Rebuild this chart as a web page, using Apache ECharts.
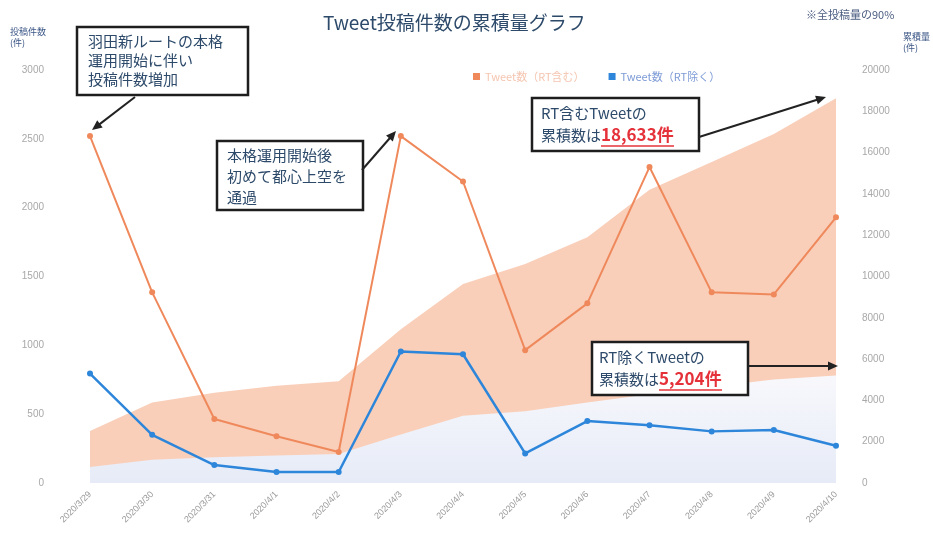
<!DOCTYPE html>
<html>
<head>
<meta charset="utf-8">
<script src="https://cdn.jsdelivr.net/npm/echarts@6/dist/echarts.min.js"></script>
<style>
  html, body { margin: 0; padding: 0; background: #fff; }
  #chart { width: 933px; height: 556px; }
</style>
</head>
<body>
<div id="chart"></div>
<script>
  // 日付
  const days = ['2020/3/29', '2020/3/30', '2020/3/31', '2020/4/1', '2020/4/2', '2020/4/3', '2020/4/4',
    '2020/4/5', '2020/4/6', '2020/4/7', '2020/4/8', '2020/4/9', '2020/4/10'];
  // 日別投稿件数
  const tweetsWithRT = [2520, 1385, 465, 340, 225, 2520, 2190, 965, 1305, 2295, 1385, 1370, 1930];
  const tweetsNoRT = [795, 350, 130, 80, 80, 955, 935, 215, 450, 420, 375, 385, 270];
  // 累積量
  const cumWithRT = [2520, 3900, 4370, 4710, 4930, 7450, 9640, 10600, 11900, 14200, 15550, 16900, 18633];
  const cumNoRT = [780, 1120, 1250, 1330, 1410, 2350, 3260, 3470, 3900, 4300, 4660, 5010, 5204];
  const leftTicks = {min: 0, max: 3000, interval: 500};
  const rightTicks = {min: 0, max: 20000, interval: 2000};

  const fontJP = '"Noto Sans CJK JP", "Noto Sans", sans-serif';
  const navy = '#2d4a6a';

  function arrow(x1, y1, x2, y2) {
    const a = Math.atan2(y2 - y1, x2 - x1), L = 10, W = 4.5;
    const c = Math.cos(a), s = Math.sin(a);
    return [
      {type: 'line', z: 100, shape: {x1: x1, y1: y1, x2: x2 - c * 6, y2: y2 - s * 6}, style: {stroke: '#222', lineWidth: 2}},
      {type: 'polygon', z: 100, shape: {points: [[x2, y2], [x2 - L * c + W * s, y2 - L * s - W * c], [x2 - L * c - W * s, y2 - L * s + W * c]]},
        style: {fill: '#222'}}
    ];
  }

  function box(x, y, w, h) {
    return {type: 'rect', z: 100, shape: {x: x, y: y, width: w, height: h},
      style: {fill: '#fff', stroke: '#1e1e1e', lineWidth: 2.5}};
  }

  function label(x, y, text, lh) {
    return {type: 'text', z: 101, x: x, y: y,
      style: {text: text, font: '15px ' + fontJP, fill: navy, lineHeight: lh, verticalAlign: 'top',
        rich: {
          r: {fill: '#e5323a', color: '#e5323a', fontWeight: 'bold', fontSize: 17, fontFamily: fontJP, lineHeight: lh}
        }}};
  }

  function underline(x1, x2, y) {
    return {type: 'line', z: 101, shape: {x1: x1, y1: y, x2: x2, y2: y}, style: {stroke: '#e5323a', lineWidth: 1.5}};
  }

  const plain = function (v) { return String(v); };

  const myChart = echarts.init(document.getElementById('chart'));
  const option = {
    animation: false,
    title: {
      text: 'Tweet投稿件数の累積量グラフ',
      left: 318,
      top: 8,
      textStyle: {fontFamily: fontJP, fontSize: 19, fontWeight: 'normal', color: navy}
    },
    legend: {
      top: 66,
      left: 468,
      itemWidth: 7,
      itemHeight: 7,
      itemGap: 24,
      icon: 'rect',
      textStyle: {fontFamily: fontJP, fontSize: 11},
      data: [
        {name: 'Tweet数（RT含む）', textStyle: {color: '#f5c5b0'}},
        {name: 'Tweet数（RT除く）', textStyle: {color: '#7d9bd6'}}
      ]
    },
    grid: {left: 90, right: 97, top: 70, bottom: 73},
    xAxis: {
      type: 'category',
      boundaryGap: false,
      data: days,
      axisLine: {show: false},
      axisTick: {show: false},
      axisLabel: {rotate: 45, fontSize: 9, color: '#9a9a9a', margin: 10, interval: 0}
    },
    yAxis: [
      {
        type: 'value',
        min: leftTicks.min, max: leftTicks.max, interval: leftTicks.interval,
        axisLine: {show: false}, axisTick: {show: false}, splitLine: {show: false},
        axisLabel: {fontSize: 10, color: '#a8a8a8', margin: 46, formatter: plain}
      },
      {
        type: 'value',
        min: rightTicks.min, max: rightTicks.max, interval: rightTicks.interval,
        axisLine: {show: false}, axisTick: {show: false}, splitLine: {show: false},
        axisLabel: {fontSize: 10, color: '#a8a8a8', margin: 26, formatter: plain}
      }
    ],
    series: [
      {
        name: '累積（RT含む）',
        type: 'line',
        yAxisIndex: 1,
        data: cumWithRT,
        symbol: 'none',
        lineStyle: {width: 0},
        areaStyle: {color: '#f9cfba', opacity: 1},
        z: 1
      },
      {
        name: '累積（RT除く）',
        type: 'line',
        yAxisIndex: 1,
        data: cumNoRT,
        symbol: 'none',
        lineStyle: {width: 0},
        areaStyle: {
          opacity: 1,
          color: new echarts.graphic.LinearGradient(0, 0, 0, 1, [
            {offset: 0, color: '#f8f8fc'},
            {offset: 1, color: '#e6ebf7'}
          ])
        },
        z: 2
      },
      {
        name: 'Tweet数（RT含む）',
        type: 'line',
        data: tweetsWithRT,
        symbol: 'circle',
        symbolSize: 6,
        itemStyle: {color: '#ef895c'},
        lineStyle: {color: '#ef895c', width: 2},
        z: 3
      },
      {
        name: 'Tweet数（RT除く）',
        type: 'line',
        data: tweetsNoRT,
        symbol: 'circle',
        symbolSize: 6,
        itemStyle: {color: '#2d86da'},
        lineStyle: {color: '#2d86da', width: 2.5},
        z: 4
      }
    ],
    graphic: [
      {type: 'text', left: 10, top: 26, z: 100,
        style: {text: '投稿件数\n(件)', font: '9px ' + fontJP, fill: '#3a5585', align: 'center', lineHeight: 11}},
      {type: 'text', left: 903, top: 31, z: 100,
        style: {text: '累積量\n(件)', font: '9px ' + fontJP, fill: '#3a5585', align: 'center', lineHeight: 11}},
      {type: 'text', left: 806, top: 9, z: 100,
        style: {text: '※全投稿量の90%', font: '11px ' + fontJP, fill: '#4a5c80'}},
      box(77, 27, 171, 68),
      label(88, 32, '羽田新ルートの本格\n運用開始に伴い\n投稿件数増加', 19),
      box(217, 141, 146, 69),
      label(227, 145, '本格運用開始後\n初めて都心上空を\n通過', 21),
      box(532, 98, 167, 53),
      label(541, 102, 'RT含むTweetの\n累積数は{r|18,633件}', 22),
      underline(601, 674, 146),
      box(592, 342, 156, 53),
      label(599, 346, 'RT除くTweetの\n累積数は{r|5,204件}', 22),
      underline(659, 722, 390)
    ].concat(arrow(135, 97, 92, 130), arrow(362, 170, 396, 131), arrow(699, 137, 826, 97), arrow(748, 366, 838, 366))
  };
  myChart.setOption(option);
</script>
</body>
</html>
